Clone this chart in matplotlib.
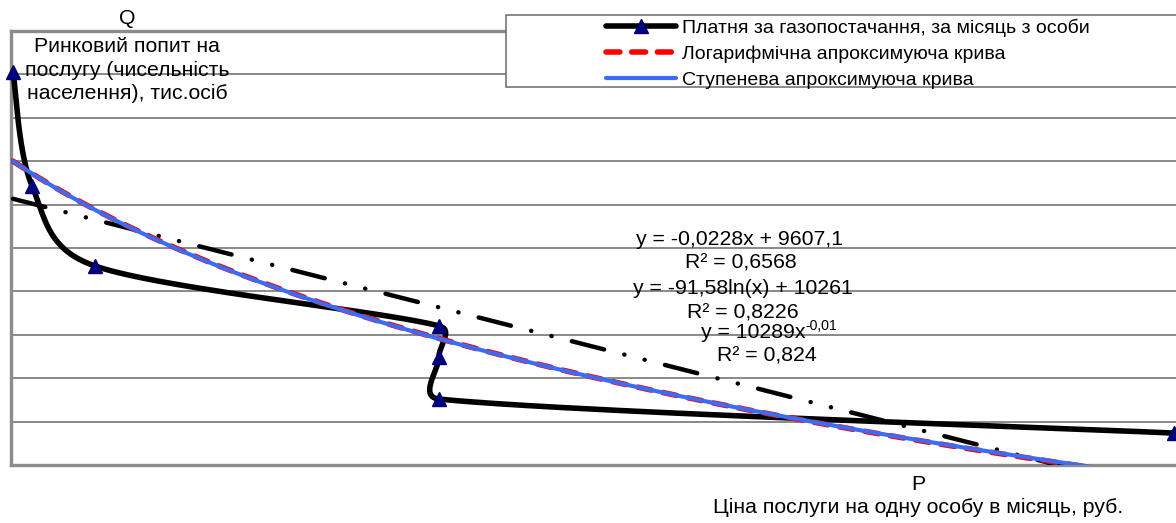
import numpy as np
import matplotlib
matplotlib.use("Agg")
import matplotlib.pyplot as plt
from matplotlib.patches import Rectangle
from matplotlib.lines import Line2D

plt.rcParams['font.family'] = ['Liberation Sans', 'DejaVu Sans']
plt.rcParams['lines.scale_dashes'] = False

# ---- data ----
price = [1510, 1605, 1920, 3640, 3640, 3640, 7315]          # P, руб.
demand = [9631.1, 9578.6, 9541.7, 9514.1, 9499.8, 9480.4, 9464.7]  # Q, тис. осіб

legend_labels = ["Платня за газопостачання, за місяць з особи",
                 "Логарифмічна апроксимуюча крива",
                 "Ступенева апроксимуюча крива"]
eq_linear = ["y = -0,0228x + 9607,1", "R² = 0,6568"]
eq_log = ["y = -91,58ln(x) + 10261", "R² = 0,8226"]
eq_power = ["y = 10289x", "-0,01", "R² = 0,824"]
y_title = ["Q", "Ринковий попит на", "послугу (чисельність", "населення), тис.осіб"]
x_title = ["P", "Ціна послуги на одну особу в місяць, руб."]

x_range = (1500, 7395)
y_range = (9450, 9650)
y_step = 20

# ---- figure ----
W, H = 1176, 523
fig = plt.figure(figsize=(W / 100, H / 100), dpi=100)
fx = lambda px: px / W
fy = lambda py: 1 - py / H
pix = lambda x, y: (fx(x), fy(y))

ax = fig.add_axes([fx(11), fy(465), (1190 - 11) / W, (465 - 31) / H])
ax.set_xlim(*x_range)
ax.set_ylim(*y_range)
ax.set_xticks([])
ax.set_yticks(np.arange(y_range[0], y_range[1] + 1, y_step))
ax.tick_params(left=False, labelleft=False)
ax.yaxis.grid(True, color='#6a6a6a', lw=1.1)
ax.set_axisbelow(True)
for s in ['left', 'bottom', 'top']:
    ax.spines[s].set_color('#8c8c8c')
    ax.spines[s].set_linewidth(2.4)
ax.spines['right'].set_visible(False)


def excel_smooth(pts, n=60):
    pts = np.asarray(pts, float)
    N = len(pts)
    out = [pts[0]]
    for i in range(N - 1):
        p0 = pts[i - 1] if i > 0 else pts[i]
        p1, p2 = pts[i], pts[i + 1]
        p3 = pts[i + 2] if i + 2 < N else pts[i + 1]
        d12 = np.hypot(*(p2 - p1))
        d02 = np.hypot(*(p2 - p0))
        d13 = np.hypot(*(p3 - p1))
        f1 = f2 = 1 / 6
        if d02 > 0 and d02 / 6 >= d12 / 2:
            f1 = d12 / d02 / 2
        if d13 > 0 and d13 / 6 >= d12 / 2:
            f2 = d12 / d13 / 2
        b1 = p1 + (p2 - p0) * f1
        b2 = p2 - (p3 - p1) * f2
        t = np.linspace(0, 1, n)[1:, None]
        seg = (1 - t) ** 3 * p1 + 3 * (1 - t) ** 2 * t * b1 + 3 * (1 - t) * t ** 2 * b2 + t ** 3 * p2
        out.extend(seg)
    return np.array(out)


disp = ax.transData.transform(np.column_stack([price, demand]))
smooth = ax.transData.inverted().transform(excel_smooth(disp))
ax.plot(smooth[:, 0], smooth[:, 1], color='black', lw=4, solid_capstyle='round', zorder=3)

# trendlines fitted to the data (as Excel does)
P = np.array(price, float)
Q = np.array(demand, float)
xs = np.linspace(P.min(), P.max(), 500)
a_lin, b_lin = np.polyfit(P, Q, 1)
a_log, b_log = np.polyfit(np.log(P), Q, 1)
a_pow, b_pow = np.polyfit(np.log(P), np.log(Q), 1)

ax.plot(xs, a_lin * xs + b_lin, color='black', lw=3.2,
        linestyle=(0, (24, 15, 0.1, 15, 0.1, 15)), dash_capstyle='round', zorder=4)
ax.plot(xs, a_log * np.log(xs) + b_log, color='#ff0000', lw=4,
        linestyle=(0, (10, 8.5)), dash_capstyle='round', zorder=5)
ax.plot(xs, np.exp(b_pow) * xs ** a_pow, color='#3b6cf6', lw=3, solid_capstyle='round', zorder=6)

ax.plot(price, demand, linestyle='none', marker='^', ms=10.5, color='#000080',
        mec='#000070', zorder=7, clip_on=False)

# equations
FS = 15.3
tkw = dict(ha='center', va='center', fontsize=FS, color='black', zorder=10)
fig.text(*pix(740, 240), eq_linear[0], **tkw)
fig.text(*pix(741, 263), eq_linear[1], **tkw)
fig.text(*pix(743, 289), eq_log[0], **tkw)
fig.text(*pix(743, 313), eq_log[1], **tkw)
# power equation: base text + raised superscript
base = fig.text(*pix(701, 333), eq_power[0], ha='left', va='center', fontsize=FS, zorder=10)
fig.canvas.draw()
bb = base.get_window_extent()
fig.text(bb.x1 / W, fy(326), eq_power[1], ha='left', va='center', fontsize=FS * 0.66, zorder=10)
fig.text(*pix(767, 356), eq_power[2], **tkw)

# axis titles
fig.text(*pix(127, 19), y_title[0], **tkw)
for i, line in enumerate(y_title[1:]):
    fig.text(*pix(127, 47 + 23 * i), line, **tkw)
fig.text(*pix(918, 484), x_title[0], **tkw)
fig.text(*pix(918, 507), x_title[1], **tkw)

# legend
fig.patches.append(Rectangle((fx(506), fy(87)), fx(1200 - 506), (87 - 14.7) / H,
                             transform=fig.transFigure, facecolor='white',
                             edgecolor='#6a6a6a', lw=1.1, zorder=20))
handles = [Line2D([], [], color='black', lw=4, marker='^', ms=10.5, mfc='#000080', mec='#000070',
                  solid_capstyle='round'),
           Line2D([], [], color='#ff0000', lw=4, linestyle=(0, (10, 8.5)), dash_capstyle='round'),
           Line2D([], [], color='#3b6cf6', lw=3, solid_capstyle='round')]
leg = fig.legend(handles, legend_labels, loc='upper left', bbox_to_anchor=(fx(600), fy(13)),
                 frameon=False, fontsize=14, handlelength=3.6, handletextpad=0.3,
                 labelspacing=0.42, borderpad=0.3, borderaxespad=0, numpoints=1)
leg.set_zorder(21)

fig.savefig("out.png", dpi=100)
